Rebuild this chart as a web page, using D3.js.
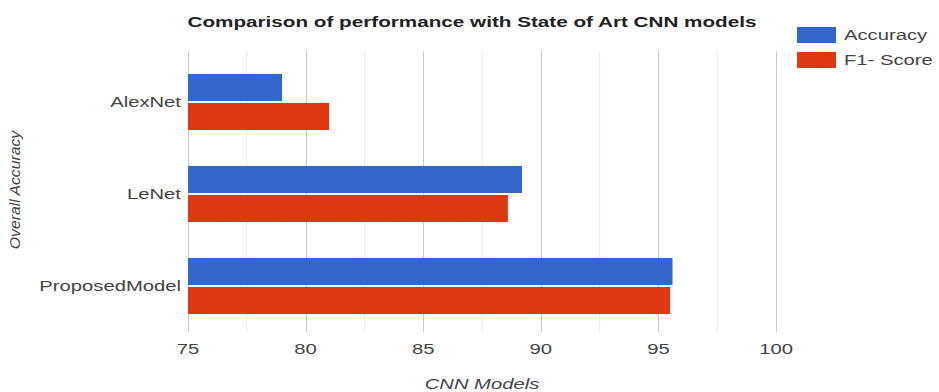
<!DOCTYPE html>
<html>
<head>
<meta charset="utf-8">
<script src="https://cdn.jsdelivr.net/npm/d3@7"></script>
<style>
  body { margin: 0; background: #fff; }
  text { font-family: "Liberation Sans", Arial, sans-serif; }
</style>
</head>
<body>
<div id="chart"></div>
<script>
// chart data
var models = ["AlexNet", "LeNet", "ProposedModel"];
var seriesNames = ["Accuracy", "F1- Score"];
var accuracy = [79, 89.2, 95.6];
var f1Score = [81, 88.6, 95.5];
var xTicks = [75, 80, 85, 90, 95, 100];
var minorTicks = [77.5, 82.5, 87.5, 92.5, 97.5];
var colors = ["#3366cc", "#dc3912"];

var svgWidth = 939;
var svgHeight = 392;

var margin = { top: 56, right: 163, bottom: 60, left: 188 };
var width = svgWidth - margin.left - margin.right;
var height = svgHeight - margin.top - margin.bottom;

// the picture is stretched sideways, so text gets a horizontal scale
var sx = 1.35;

var svg = d3.select("#chart")
    .append("svg")
    .attr("width", svgWidth)
    .attr("height", svgHeight);

var chartGroup = svg.append("g")
    .attr("transform", `translate(${margin.left}, ${margin.top})`);

function wideText(parent, x, y, str, anchor) {
    return parent.append("text")
        .attr("transform", `translate(${x}, ${y}) scale(${sx}, 1)`)
        .attr("text-anchor", anchor)
        .text(str);
}

// scales
var xScale = d3.scaleLinear()
    .domain([75, 100])
    .range([0, width]);

var yScale = d3.scaleBand()
    .domain(models)
    .range([0, height])
    .paddingInner(0.39)
    .paddingOuter(0.195);

var ySub = d3.scaleBand()
    .domain(seriesNames)
    .range([0, yScale.bandwidth()]);

// gridlines
chartGroup.selectAll(".minor")
    .data(minorTicks)
    .enter()
    .append("line")
    .attr("x1", d => xScale(d))
    .attr("x2", d => xScale(d))
    .attr("y1", -5)
    .attr("y2", height)
    .attr("stroke", "#ebebeb");

chartGroup.selectAll(".major")
    .data(xTicks)
    .enter()
    .append("line")
    .attr("x1", d => Math.round(xScale(d)) + 0.5)
    .attr("x2", d => Math.round(xScale(d)) + 0.5)
    .attr("y1", -5)
    .attr("y2", height)
    .attr("stroke", "#cccccc");

// bars
var rows = models.map(function(m, i) {
    return [
        { model: m, series: seriesNames[0], value: accuracy[i], color: colors[0] },
        { model: m, series: seriesNames[1], value: f1Score[i], color: colors[1] }
    ];
});

var groups = chartGroup.selectAll(".model")
    .data(rows)
    .enter()
    .append("g")
    .attr("transform", d => `translate(0, ${yScale(d[0].model)})`);

groups.selectAll("rect")
    .data(d => d)
    .enter()
    .append("rect")
    .attr("x", xScale(75))
    .attr("y", d => ySub(d.series) + (d.series === seriesNames[1] ? 1 : 0))
    .attr("width", d => xScale(d.value) - xScale(75))
    .attr("height", ySub.bandwidth() - 1)
    .attr("fill", d => d.color);

// category labels
models.forEach(function(m) {
    wideText(chartGroup, -7, yScale(m) + yScale.bandwidth() / 2 + 5, m, "end")
        .attr("font-size", "15px")
        .attr("fill", "#444");
});

// x tick labels
xTicks.forEach(function(t) {
    wideText(chartGroup, xScale(t), height + 22, t, "middle")
        .attr("font-size", "15px")
        .attr("fill", "#444");
});

// axis titles
wideText(chartGroup, width / 2, height + 57, "CNN Models", "middle")
    .attr("font-size", "15px")
    .attr("font-style", "italic")
    .attr("fill", "#444");

svg.append("text")
    .attr("transform", "translate(20, 190) rotate(-90) scale(1.05, 1)")
    .attr("text-anchor", "middle")
    .attr("font-size", "15px")
    .attr("font-style", "italic")
    .attr("fill", "#444")
    .text("Overall Accuracy");

// title
svg.append("text")
    .attr("x", 472)
    .attr("y", 27)
    .attr("text-anchor", "middle")
    .attr("font-size", "15px")
    .attr("font-weight", "bold")
    .attr("fill", "#222")
    .attr("textLength", 569)
    .attr("lengthAdjust", "spacingAndGlyphs")
    .text("Comparison of performance with State of Art CNN models");

// legend
var legend = svg.append("g")
    .attr("transform", "translate(797, 27)");

seriesNames.forEach(function(s, i) {
    legend.append("rect")
        .attr("x", 0)
        .attr("y", i * 25)
        .attr("width", 39)
        .attr("height", 16)
        .attr("fill", colors[i]);
    wideText(legend, 47, i * 25 + 13, s, "start")
        .attr("font-size", "15px")
        .attr("fill", "#444");
});
</script>
</body>
</html>
